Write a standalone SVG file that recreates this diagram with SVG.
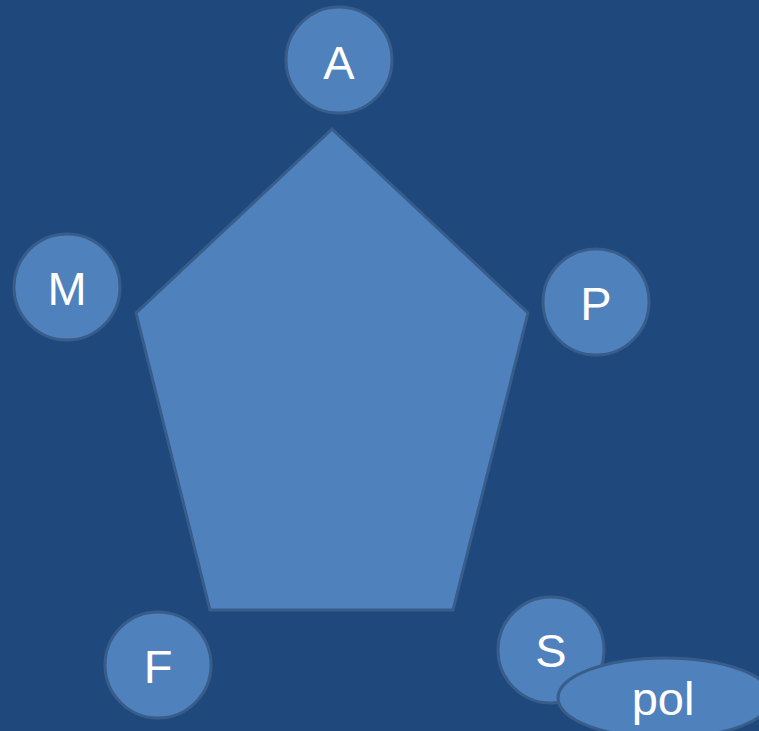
<svg xmlns="http://www.w3.org/2000/svg" width="759" height="731" viewBox="0 0 759 731">
<style>
.n{fill:#4f81bd;stroke:#385d8a;stroke-width:3}
.t{font-family:"Liberation Sans",Arial,sans-serif;font-size:47px;fill:#ffffff;text-anchor:middle}
</style>
<rect x="0" y="0" width="759" height="731" fill="#1f497d"/>
<g id="pentagon"><polygon class="n" points="332,129 528,313 453,610 210,610 136,313"/></g>
<g id="connectors"></g>
<g id="A"><circle class="n" cx="339" cy="60" r="53"/><text class="t" x="339" y="79">A</text></g>
<g id="M"><circle class="n" cx="67" cy="287" r="53"/><text class="t" x="67" y="305">M</text></g>
<g id="P"><circle class="n" cx="596" cy="302" r="53"/><text class="t" x="596" y="320">P</text></g>
<g id="F"><circle class="n" cx="158" cy="665" r="53"/><text class="t" x="158" y="683">F</text></g>
<g id="S"><circle class="n" cx="551" cy="650" r="53"/><text class="t" x="551" y="667">S</text></g>
<g id="pol"><ellipse class="n" cx="665" cy="698" rx="107" ry="40"/><text class="t" x="663" y="715">pol</text></g>
</svg>
